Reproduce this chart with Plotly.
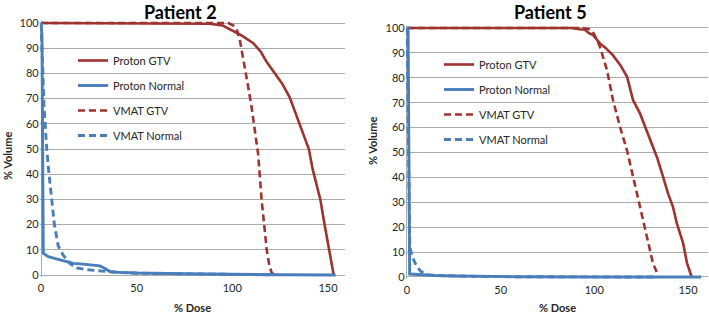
import plotly.graph_objects as go

W, H = 709, 317

# ---------------- data ----------------
series_names = ["Proton GTV", "Proton Normal", "VMAT GTV", "VMAT Normal"]
x_ticks = [0, 50, 100, 150]
y_ticks = [0, 10, 20, 30, 40, 50, 60, 70, 80, 90, 100]

# Patient 2
p2_proton_gtv_dose = [0, 80, 88, 95, 100, 105, 111, 115, 118, 122, 126, 130, 135, 140, 142, 146, 148, 150, 151.5, 153]
p2_proton_gtv_vol = [100, 100, 99.7, 99, 97, 95, 92, 88.5, 84.5, 80, 76, 70.5, 60, 50, 42, 30, 21, 12.5, 7, 0]
p2_proton_norm_dose = [0, 0.5, 1.2, 3.8, 10, 16.9, 22, 26, 30.8, 33, 36, 40, 50, 75, 100, 125, 154]
p2_proton_norm_vol = [100, 95, 8.6, 7.3, 6, 4.6, 4.3, 4.0, 3.6, 2.8, 1.4, 1.1, 0.8, 0.5, 0.2, 0.1, 0]
p2_vmat_gtv_dose = [0, 98, 100.5, 102.5, 104, 106, 108, 110, 112, 113.5, 115.3, 117, 118, 119.3, 120.5, 122]
p2_vmat_gtv_vol = [100, 100, 99, 97, 93, 85, 76, 67, 57, 48, 30, 18, 10, 4, 1, 0]
p2_vmat_norm_dose = [0, 0.5, 1, 1.5, 2, 3, 4.2, 5.6, 7, 9, 11.5, 15, 18.6, 24, 29, 36, 40, 50, 75, 100, 122]
p2_vmat_norm_vol = [100, 92, 80, 68, 60, 50, 40, 30, 20, 11.5, 8, 4.6, 2.8, 2.1, 1.7, 1.3, 1, 0.7, 0.4, 0.2, 0.05]

# Patient 5
p5_proton_gtv_dose = [0, 88, 92, 95, 97, 99.3, 103, 106, 110, 114, 117.5, 120.7, 124.4, 129.7, 133.5, 136.7, 139.3, 142, 144, 147.4, 149.5, 152]
p5_proton_gtv_vol = [100, 100, 99.5, 99.3, 98, 97.2, 93.8, 92, 89, 85, 80.4, 71, 65.7, 55, 48, 40.3, 33.7, 28.2, 21.7, 13.6, 5.6, 0]
p5_proton_norm_dose = [0, 0.6, 1.4, 5, 10, 15, 25, 40, 60, 100, 157]
p5_proton_norm_vol = [100, 100, 1.2, 1.0, 0.8, 0.6, 0.4, 0.2, 0.1, 0.02, 0]
p5_vmat_gtv_dose = [0, 94, 97.7, 99.5, 101, 103, 106.8, 110, 113.7, 117.4, 120.7, 124.4, 128, 131.3, 133.5, 134]
p5_vmat_gtv_vol = [100, 100, 99.5, 98, 96, 92.5, 83, 71, 60.4, 51, 40.3, 28.2, 17.7, 5.6, 1.6, 0]
p5_vmat_norm_dose = [0, 0.5, 1, 1.5, 2.5, 4.3, 5.9, 7.5, 8.5, 10, 15, 25, 40, 60, 100, 134]
p5_vmat_norm_vol = [100, 70, 35, 12, 9, 5.6, 3.6, 2.2, 1.8, 1.0, 0.6, 0.4, 0.2, 0.1, 0.02, 0]

RED = "#9E3330"
BLUE = "#4A7EBB"
GRID = "#ABABAB"
TXT = "#262626"
FONT = "Lato"

fig = go.Figure()

def add(panel, name, xs, ys, color, dash, rank, width):
    xa = "x" if panel == 1 else "x2"
    ya = "y" if panel == 1 else "y2"
    fig.add_trace(go.Scatter(
        x=xs, y=ys, mode="lines", name=name,
        line=dict(color=color, width=width, dash=dash),
        xaxis=xa, yaxis=ya,
        legend="legend" if panel == 1 else "legend2",
        legendgroup=f"{panel}-{name}", legendrank=rank,
    ))

DASH = "7px,4px"
for panel, data in [
    (1, [p2_proton_gtv_dose, p2_proton_gtv_vol, p2_proton_norm_dose, p2_proton_norm_vol,
         p2_vmat_gtv_dose, p2_vmat_gtv_vol, p2_vmat_norm_dose, p2_vmat_norm_vol]),
    (2, [p5_proton_gtv_dose, p5_proton_gtv_vol, p5_proton_norm_dose, p5_proton_norm_vol,
         p5_vmat_gtv_dose, p5_vmat_gtv_vol, p5_vmat_norm_dose, p5_vmat_norm_vol]),
]:
    add(panel, series_names[0], data[0], data[1], RED, "solid", 1, 2.6)
    add(panel, series_names[2], data[4], data[5], RED, DASH, 3, 2.6)
    add(panel, series_names[1], data[2], data[3], BLUE, "solid", 2, 2.9)
    add(panel, series_names[3], data[6], data[7], BLUE, DASH, 4, 2.9)

def px(x):
    return x / W

def py(y):
    return 1 - y / H

axis_common = dict(
    gridcolor=GRID, gridwidth=1, automargin=False,
    showline=False, ticks="", zeroline=True, zerolinecolor=GRID, zerolinewidth=1,
    tickfont=dict(family=FONT, size=11, color=TXT), fixedrange=True,
)

fig.update_layout(
    xaxis=dict(domain=[px(41 - 0.7 * 1.913), px(41 + 159 * 1.913)], range=[-0.7, 159],
               tickvals=x_ticks, anchor="y", showgrid=False, ticklabelstandoff=3, **axis_common),
    yaxis=dict(domain=[py(275 + 0.8 * 2.52), py(23 - 0.8 * 2.52)], range=[-0.8, 100.8],
               tickvals=y_ticks, anchor="x", showgrid=True, **axis_common),
    xaxis2=dict(domain=[px(407 - 0.7 * 1.873), px(407 + 160.5 * 1.873)], range=[-0.7, 160.5],
                tickvals=x_ticks, anchor="y2", showgrid=False, ticklabelstandoff=3, **axis_common),
    yaxis2=dict(domain=[py(277 + 0.8 * 2.49), py(28 - 0.8 * 2.49)], range=[-0.8, 100.8],
                tickvals=y_ticks, anchor="x2", showgrid=True, **axis_common),
)

leg_common = dict(
    font=dict(family=FONT, size=11, color=TXT), bgcolor="rgba(0,0,0,0)",
    borderwidth=0, tracegroupgap=6, xanchor="left", yanchor="top",
    itemclick=False, itemdoubleclick=False,
)
fig.update_layout(
    legend=dict(x=px(73), y=py(46), **leg_common),
    legend2=dict(x=px(439), y=py(50), **leg_common),
)

ann = []
ann.append(dict(text="<b>Patient 2</b>", x=px(180), y=py(12), xref="paper", yref="paper",
                xanchor="center", yanchor="middle", showarrow=False,
                font=dict(family=FONT, size=18, color="#000000")))
ann.append(dict(text="<b>Patient 5</b>", x=px(550), y=py(12), xref="paper", yref="paper",
                xanchor="center", yanchor="middle", showarrow=False,
                font=dict(family=FONT, size=18, color="#000000")))
ann.append(dict(text="<b>% Dose</b>", x=px(192), y=py(307), xref="paper", yref="paper",
                xanchor="center", yanchor="middle", showarrow=False, font=dict(family=FONT, size=11, color=TXT)))
ann.append(dict(text="<b>% Dose</b>", x=px(557), y=py(307), xref="paper", yref="paper",
                xanchor="center", yanchor="middle", showarrow=False, font=dict(family=FONT, size=11, color=TXT)))
ann.append(dict(text="<b>% Volume</b>", x=px(7), y=py(156), xref="paper", yref="paper", textangle=-90,
                xanchor="center", yanchor="middle", showarrow=False, font=dict(family=FONT, size=11, color=TXT)))
ann.append(dict(text="<b>% Volume</b>", x=px(373), y=py(140), xref="paper", yref="paper", textangle=-90,
                xanchor="center", yanchor="middle", showarrow=False, font=dict(family=FONT, size=11, color=TXT)))

fig.update_layout(
    width=W, height=H, margin=dict(l=0, r=0, t=0, b=0, autoexpand=False),
    paper_bgcolor="white", plot_bgcolor="white",
    annotations=ann, showlegend=True,
)

fig.write_html("out.html", config={"displayModeBar": False},
               post_script="document.body.style.margin='0';document.body.style.padding='0';")
